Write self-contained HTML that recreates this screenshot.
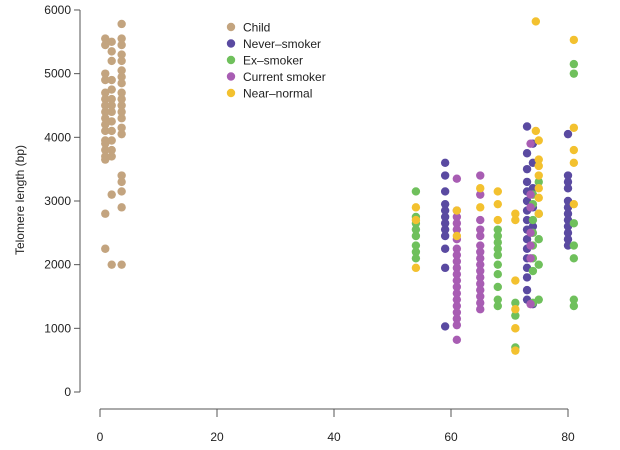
<!DOCTYPE html>
<html><head><meta charset="utf-8"><style>
body{margin:0;background:#fff;font-family:"Liberation Sans",sans-serif}
svg text{font-family:"Liberation Sans",sans-serif;font-size:12px;fill:#222}
</style></head><body>
<svg id="c" width="620" height="445">
<g id="axes"></g><g id="pts"></g><g id="leg"></g>
</svg>
<script>
const xTicks=[0,20,40,60,80];
const yTicks=[0,1000,2000,3000,4000,5000,6000];
const seriesNames=["Child","Never\u2013smoker","Ex\u2013smoker","Current smoker","Near\u2013normal"];
const seriesColors=["#c3a47f","#5a4aa1","#6fc05c","#a85db3","#f3c12f"];
const childAge=[0.9,0.9,0.9,0.9,0.9,0.9,0.9,0.9,0.9,0.9,0.9,0.9,0.9,0.9,0.9,0.9,0.9,0.9,2,2,2,2,2,2,2,2,2,2,2,2,2,2,2,3.7,3.7,3.7,3.7,3.7,3.7,3.7,3.7,3.7,3.7,3.7,3.7,3.7,3.7,3.7,3.7,3.7,3.7,3.7,3.7];
const childVal=[5550,5450,5000,4900,4700,4600,4500,4400,4300,4200,4100,3950,3900,3800,3700,3650,2800,2250,5500,5350,5200,4900,4750,4600,4500,4400,4250,4100,3950,3800,3700,3100,2000,5780,5550,5450,5300,5200,5050,4950,4850,4700,4600,4500,4400,4300,4150,4050,3400,3300,3150,2900,2000];
const neverAge=[59,59,59,59,59,59,59,59,59,59,59,59,73,73,73,73,73,73,73,73,73,73,73,73,73,73,73,73,74,74,74,74,74,74,80,80,80,80,80,80,80,80,80,80,80,80];
const neverVal=[3600,3400,3150,2950,2850,2750,2650,2550,2450,2250,1950,1030,4170,3750,3500,3300,3150,3000,2850,2700,2550,2400,2250,2100,1950,1800,1600,1450,3900,3600,3200,2900,2600,1380,4050,3400,3300,3200,3000,2900,2800,2700,2600,2500,2400,2300];
const exAge=[54,54,54,54,54,54,54,54,68,68,68,68,68,68,68,68,68,68,71,71,71,74,74,74,74,74,74,74,74,75,75,75,75,75,81,81,81,81,81,81,81];
const exVal=[3150,2750,2650,2550,2450,2300,2200,2100,2550,2450,2350,2250,2150,2000,1850,1650,1450,1350,1400,1200,700,3100,2950,2700,2500,2300,2100,1900,1400,3300,2800,2400,2000,1450,5150,5000,2650,2300,2100,1450,1350];
const curAge=[61,61,61,61,61,61,61,61,61,61,61,61,61,61,61,61,61,61,61,61,65,65,65,65,65,65,65,65,65,65,65,65,65,65,65,65,73.6,73.6,73.6,73.6,73.6,73.6,73.6];
const curVal=[3350,2850,2750,2650,2550,2400,2250,2150,2050,1950,1850,1750,1650,1550,1450,1350,1250,1150,1050,820,3400,3100,2700,2550,2450,2300,2200,2100,2000,1900,1800,1700,1600,1500,1400,1300,3900,3100,2900,2500,2300,2100,1380];
const nearAge=[54,54,54,61,61,65,65,68,68,68,71,71,71,71,71,71,74.5,74.5,75,75,75,75,75,75,75,81,81,81,81,81,71];
const nearVal=[2900,2700,1950,2850,2450,3200,2900,3150,2950,2700,2800,2700,1750,1300,1000,650,5820,4100,3950,3650,3550,3400,3200,3050,2800,5530,3800,3600,4150,2950,1000];
const X=v=>100+v*5.85, Y=v=>392-v*0.06367;
const NS="http://www.w3.org/2000/svg";
function mk(t,a,p){const e=document.createElementNS(NS,t);for(const k in a)e.setAttribute(k,a[k]);p.appendChild(e);return e;}
const ax=document.getElementById('axes');
let l=mk('line',{x1:80,y1:Y(0),x2:80,y2:Y(6000),stroke:'#555'},ax);


l=mk('line',{x1:X(0),y1:409,x2:X(80),y2:409,stroke:'#555'},ax);


yTicks.forEach(v=>{mk('line',{x1:74,x2:80,y1:Y(v),y2:Y(v),stroke:'#555'},ax);
 const t=mk('text',{x:71,y:Y(v)+4,'text-anchor':'end'},ax);t.textContent=v;
 
 });
xTicks.forEach(v=>{mk('line',{x1:X(v),x2:X(v),y1:409,y2:417,stroke:'#555'},ax);
 const t=mk('text',{x:X(v),y:441,'text-anchor':'middle'},ax);t.textContent=v;
 
 });
const yt=mk('text',{x:24,y:200,'text-anchor':'middle',transform:'rotate(-90 24 200)'},ax);
yt.textContent='Telomere length (bp)';


const pts=document.getElementById('pts');
const S=[[childAge,childVal],[neverAge,neverVal],[exAge,exVal],[curAge,curVal],[nearAge,nearVal]];
S.forEach((s,i)=>{s[0].forEach((a,j)=>{const c=mk('circle',{cx:X(a),cy:Y(s[1][j]),r:4.2,fill:seriesColors[i]},pts);
 
 });});
const lg=document.getElementById('leg');
seriesNames.forEach((n,i)=>{const y=27+i*16.5;
 const c=mk('circle',{cx:231,cy:y,r:4.2,fill:seriesColors[i]},lg);
 
 
 const t=mk('text',{x:243,y:y+4.5},lg);t.textContent=n;
 
 });
</script>
</body></html>
